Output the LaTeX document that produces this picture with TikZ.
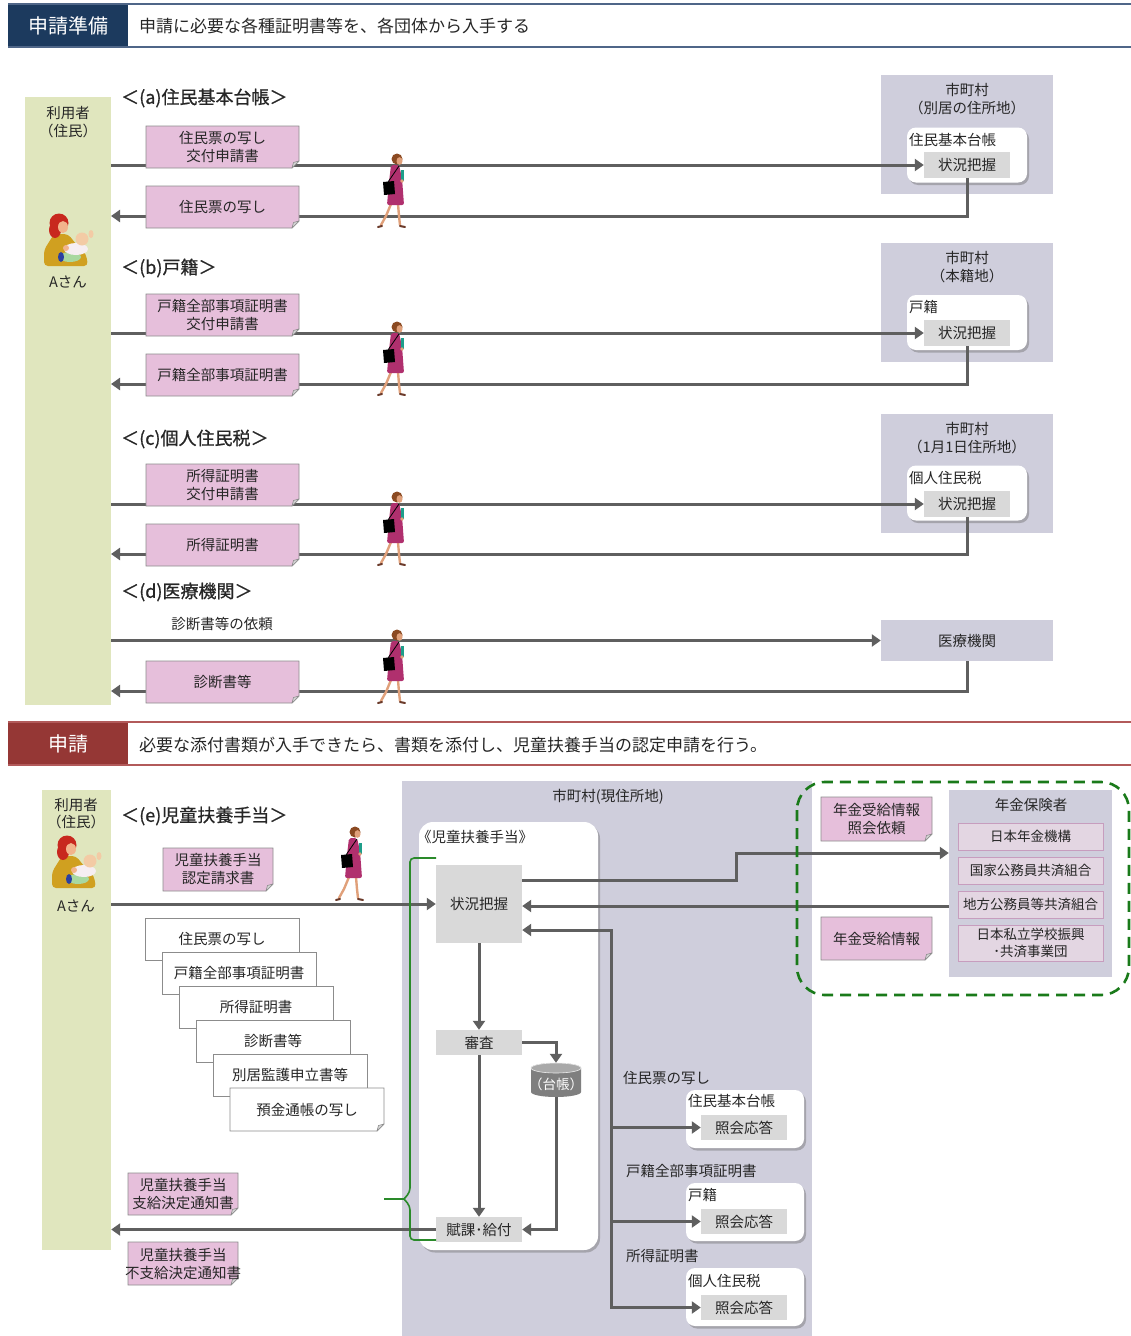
\documentclass[tikz,border=0pt]{standalone}
\usepackage{fontspec}
\setmainfont{Noto Sans CJK JP}
\newfontfamily\ttlfont[FakeBold=0.8]{Noto Sans CJK JP}
\usetikzlibrary{arrows.meta,calc,shadows}

\definecolor{hdrnavy}{HTML}{1C3A5E}
\definecolor{hdrnavyline}{HTML}{4F6688}
\definecolor{hdrwine}{HTML}{953735}
\definecolor{hdrwineline}{HTML}{B25A5A}
\definecolor{usergreen}{HTML}{E0E6BE}
\definecolor{munigray}{HTML}{CFCEDC}
\definecolor{notepink}{HTML}{E6BFDB}
\definecolor{noteedge}{HTML}{8C8C8C}
\definecolor{foldgray}{HTML}{D6D6D6}
\definecolor{conngray}{HTML}{5F5F5F}
\definecolor{taskgray}{HTML}{D9D9D9}
\definecolor{dashgreen}{HTML}{1A7A1A}
\definecolor{bracegreen}{HTML}{2A8A2A}
\definecolor{insfill}{HTML}{E3D6E2}
\definecolor{insedge}{HTML}{C79DBE}
\definecolor{dbgray}{HTML}{7F7F7F}
\definecolor{dbtop}{HTML}{A9A9A9}
\definecolor{inkgray}{HTML}{262626}
% clip-art colours
\definecolor{coat}{HTML}{B0306E}
\definecolor{skin}{HTML}{E0A07A}
\definecolor{hairbrown}{HTML}{8B4A22}
\definecolor{shoe}{HTML}{6B3A2A}
\definecolor{book}{HTML}{1E9E8A}
\definecolor{mustard}{HTML}{D0A020}
\definecolor{redhair}{HTML}{C8281E}
\definecolor{skinm}{HTML}{F2B48C}
\definecolor{skinb}{HTML}{F3CBA5}
\definecolor{babywhite}{HTML}{F6EEF2}
\definecolor{babyleg}{HTML}{A8D8A0}
\definecolor{babyfoot}{HTML}{2A40A0}

% pink (or white) document note with a folded lower-right corner
% #1 fill, #2 name, #3 centre, #4 width, #5 height, #6 text
\newcommand\docnote[6][notepink]{%
  \begin{scope}[shift={(#3)}]
    \filldraw[fill=#1, draw=noteedge, line width=0.8pt]
      ({-#4/2},{-#5/2}) -- ({#4/2},{-#5/2}) -- ({#4/2},{#5/2-7}) --
      ({#4/2-7},{#5/2}) -- ({-#4/2},{#5/2}) -- cycle;
    \filldraw[fill=foldgray, draw=noteedge, line width=0.6pt, line join=round]
      ({#4/2},{#5/2-7}) -- ({#4/2-7},{#5/2}) -- ({#4/2-5.5},{#5/2-5.5}) -- cycle;
  \end{scope}
  \node[notetxt] (#2) at (#3) {#6};
}

\tikzset{
  walker/.pic={
    \draw[skin, line width=2.4pt, line cap=round] (13,52) -- (8,64) -- (3,73);
    \draw[skin, line width=2.4pt, line cap=round] (20,52) -- (21,64) -- (22,73);
    \draw[shoe, line width=2pt, line cap=round] (0,75) -- (4,74);
    \draw[shoe, line width=2pt, line cap=round] (22,74) -- (27,75);
    \fill[coat, rounded corners=2pt] (13,13) -- (21,13) -- (24,26) -- (26,53) -- (9,53) -- (11,30) -- cycle;
    \draw[black, line width=0.8pt] (21,14) -- (10,30);
    \fill[black] (5,30) -- (16,29) -- (17,42) -- (6,43) -- cycle;
    \fill[book] (23,18) rectangle (26,29);
    \fill[skin] (24,29) circle (1.8pt);
    \fill[hairbrown] (19,7) circle (5.5pt);
    \fill[skin] (21.5,9) ellipse (3pt and 3.8pt);
  },
  mother/.pic={
    \fill[mustard, rounded corners=4pt] (-14,-6) -- (0,-6) -- (8,4) -- (18,14) -- (20,26) -- (-24,26) -- (-24,10) -- cycle;
    \fill[redhair] (-9,-17) circle (9.5pt);
    \fill[redhair] (-13,-10) ellipse (6pt and 8pt);
    \fill[skinm] (-5,-13) ellipse (5pt and 6pt);
    \fill[babyleg] (2,17) ellipse (11pt and 5pt);
    \fill[babyfoot] (-7,17) ellipse (3pt and 5pt);
    \fill[babywhite] (8,9) ellipse (12pt and 6pt);
    \fill[skinb] (14,-1) circle (6.5pt);
    \fill[skinb] (23,-6) ellipse (2.5pt and 4pt);
    \fill[skinm] (-2,8) circle (3pt);
  }
}

\begin{document}
\begin{tikzpicture}[x=1pt,y=-1pt,
  txt/.style={inner sep=0pt, font=\fontsize{14.5}{18}\selectfont, text=inkgray, align=center},
  ttl/.style={inner sep=0pt, anchor=west, font=\ttlfont\fontsize{18}{21}\selectfont, text=inkgray},
  hdr/.style={inner sep=0pt, font=\fontsize{20}{24}\selectfont, text=white},
  hdrtxt/.style={inner sep=0pt, anchor=west, font=\fontsize{17}{20}\selectfont, text=inkgray},
  notetxt/.style={txt},
  userbox/.style={fill=usergreen, inner sep=0pt},
  munibox/.style={fill=munigray, inner sep=0pt},
  wbox/.style={fill=white, rounded corners=9pt, inner sep=0pt,
    drop shadow={shadow xshift=2pt, shadow yshift=-2.5pt, fill=black!60, opacity=0.4}},
  task/.style={fill=taskgray, inner sep=0pt, minimum width=86pt, font=\fontsize{14.5}{18}\selectfont, text=inkgray},
  insbox/.style={fill=insfill, draw=insedge, line width=1pt, minimum width=145pt, inner sep=0pt,
    align=center, font=\fontsize{13.5}{17}\selectfont, text=inkgray},
  stackdoc/.style={fill=white, draw=noteedge, line width=0.8pt, minimum width=154pt, minimum height=42pt,
    inner sep=0pt, font=\fontsize{14.5}{18}\selectfont, text=inkgray},
  conn/.style={draw=conngray, line width=3pt},
  arr/.style={conn, -{Triangle[length=9pt,width=12pt]}},
]
\useasboundingbox (0,0) rectangle (1131,1336);

% ---------------- header bands ----------------
\fill[hdrnavy] (8,4) rectangle (128,47);
\draw[hdrnavyline, line width=1.2pt] (8,4) -- (1131,4) (8,47) -- (1131,47);
\node[hdr] (h1) at (68,26) {申請準備};
\node[hdrtxt] (h1t) at (139,26) {申請に必要な各種証明書等を、各団体から入手する};

\fill[hdrwine] (8,722) rectangle (128,765);
\draw[hdrwineline, line width=1.2pt] (8,722) -- (1131,722) (8,765) -- (1131,765);
\node[hdr] (h2) at (68,744) {申請};
\node[hdrtxt] (h2t) at (139,745) {必要な添付書類が入手できたら、書類を添付し、児童扶養手当の認定申請を行う。};

% ---------------- upper part: obtaining the certificates ----------------
\node[userbox, minimum width=86pt, minimum height=608pt] (u1) at (68,401) {};
\node[txt] (u1a) at (68,113) {利用者};
\node[txt] (u1b) at (68,131) {（住民）};
\pic at (68,240) {mother};
\node[txt] (u1c) at (68,282) {Aさん};

\node[ttl] (ta) at (121,98) {＜(a)住民基本台帳＞};
\node[ttl] (tb) at (121,268) {＜(b)戸籍＞};
\node[ttl] (tc) at (121,439) {＜(c)個人住民税＞};
\node[ttl] (td) at (121,592) {＜(d)医療機関＞};

% municipal offices
\node[munibox, minimum width=172pt, minimum height=119pt] (ma) at (967,134.5) {};
\node[txt] (ma1) at (967,90) {市町村};
\node[txt] (ma2) at (967,108) {（別居の住所地）};
\node[wbox, minimum width=120pt, minimum height=55pt] (wa) at (967,155) {};
\node[txt, anchor=west] (wal) at (909,140) {住民基本台帳};
\node[task, minimum height=26pt] (sa) at (967,165) {状況把握};

\node[munibox, minimum width=172pt, minimum height=119pt] (mb) at (967,302.5) {};
\node[txt] (mb1) at (967,258) {市町村};
\node[txt] (mb2) at (967,276) {（本籍地）};
\node[wbox, minimum width=120pt, minimum height=55pt] (wb) at (967,322.5) {};
\node[txt, anchor=west] (wbl) at (909,307) {戸籍};
\node[task, minimum height=26pt] (sb) at (967,333) {状況把握};

\node[munibox, minimum width=172pt, minimum height=119pt] (mc) at (967,473.5) {};
\node[txt] (mc1) at (967,429) {市町村};
\node[txt] (mc2) at (967,447) {（1月1日住所地）};
\node[wbox, minimum width=120pt, minimum height=55pt] (wc) at (967,493) {};
\node[txt, anchor=west] (wcl) at (909,478) {個人住民税};
\node[task, minimum height=26pt] (sc) at (967,504) {状況把握};

\node[munibox, minimum width=172pt, minimum height=41pt, font=\fontsize{14.5}{18}\selectfont, text=inkgray] (md) at (967,640.5) {医療機関};

% request and return flows
\coordinate (ra) at (111,216);
\coordinate (rb) at (111,384);
\coordinate (rc) at (111,554);
\coordinate (rd) at (111,691);
\draw[arr] (u1.east |- sa.west) -- (sa.west);
\draw[arr] (sa.south) |- (ra);
\draw[arr] (u1.east |- sb.west) -- (sb.west);
\draw[arr] (sb.south) |- (rb);
\draw[arr] (u1.east |- sc.west) -- (sc.west);
\draw[arr] (sc.south) |- (rc);
\draw[arr] (u1.east |- md.west) -- (md.west);
\draw[arr] (md.south) |- (rd);

\docnote{na1}{222.5,147}{153}{42}{住民票の写し\\交付申請書}
\docnote{na2}{222.5,207}{153}{42}{住民票の写し}
\docnote{nb1}{222.5,315}{153}{42}{戸籍全部事項証明書\\交付申請書}
\docnote{nb2}{222.5,375}{153}{42}{戸籍全部事項証明書}
\docnote{nc1}{222.5,485}{153}{42}{所得証明書\\交付申請書}
\docnote{nc2}{222.5,545}{153}{42}{所得証明書}
\docnote{nd2}{222.5,682}{153}{42}{診断書等}
\node[txt] (ndl) at (222,624) {診断書等の依頼};

\pic at (378,152) {walker};
\pic at (378,320) {walker};
\pic at (378,490) {walker};
\pic at (378,628) {walker};

% ---------------- lower part: the application ----------------
\node[userbox, minimum width=69pt, minimum height=460pt] (u2) at (76.5,1020) {};
\node[txt] (u2a) at (76,805) {利用者};
\node[txt] (u2b) at (76,822) {（住民）};
\pic at (76,862) {mother};
\node[txt] (u2c) at (76,906) {Aさん};

\node[ttl] (te) at (121,816) {＜(e)児童扶養手当＞};

% current municipality
\node[munibox, minimum width=410pt, minimum height=555pt] (mm) at (607,1058.5) {};
\node[txt] (mml) at (608,797) {市町村(現住所地)};
\node[wbox, rounded corners=14pt, minimum width=179pt, minimum height=428pt] (wm) at (508.5,1036) {};
\node[txt, anchor=west] (wml) at (417,837) {《児童扶養手当》};
\node[task, minimum height=78pt] (sk) at (479,904) {状況把握};
\node[task, minimum height=25pt] (shinsa) at (479,1042.5) {審査};
\node[task, minimum height=25pt] (fuka) at (479,1229.5) {賦課･給付};

% ledger cylinder
\node[inner sep=0pt, minimum width=50pt, minimum height=34pt] (daicho) at (556,1080) {};
\fill[dbgray] (531,1068) -- (531,1092) arc[start angle=180, end angle=360, x radius=25pt, y radius=5pt]
  -- (581,1068) arc[start angle=0, end angle=180, x radius=25pt, y radius=5pt] -- cycle;
\filldraw[fill=dbtop, draw=white!85!gray, line width=0.6pt] (556,1068) ellipse (25pt and 5pt);
\node[inner sep=0pt, text=white, font=\fontsize{13.5}{16}\selectfont] (daichol) at (556,1084) {（台帳）};

% inquiry boxes of other registers
\node[txt, anchor=west] (q1l) at (623,1078) {住民票の写し};
\node[wbox, minimum width=118pt, minimum height=58pt] (w1) at (745,1119) {};
\node[txt, anchor=west] (w1l) at (688,1101) {住民基本台帳};
\node[task, minimum height=25pt] (s1) at (744,1127.5) {照会応答};

\node[txt, anchor=west] (q2l) at (626,1171) {戸籍全部事項証明書};
\node[wbox, minimum width=118pt, minimum height=58pt] (w2) at (745,1212) {};
\node[txt, anchor=west] (w2l) at (688,1195) {戸籍};
\node[task, minimum height=25pt] (s2) at (744,1221.5) {照会応答};

\node[txt, anchor=west] (q3l) at (626,1256) {所得証明書};
\node[wbox, minimum width=118pt, minimum height=58pt] (w3) at (745,1297) {};
\node[txt, anchor=west] (w3l) at (688,1281) {個人住民税};
\node[task, minimum height=25pt] (s3) at (744,1307.5) {照会応答};

% pension insurers
\node[munibox, minimum width=163pt, minimum height=187pt] (ins) at (1030.5,883.5) {};
\node[txt] (insl) at (1031,805) {年金保険者};
\node[insbox, minimum height=27pt] (i1) at (1030.5,836.5) {日本年金機構};
\node[insbox, minimum height=27pt] (i2) at (1030.5,870.5) {国家公務員共済組合};
\node[insbox, minimum height=27pt] (i3) at (1030.5,904.5) {地方公務員等共済組合};
\node[insbox, minimum height=36pt] (i4) at (1030.5,943) {日本私立学校振興\\･共済事業団};

% flows of the application
\coordinate (j1) at (736,880);
\coordinate (j2) at (736,853);
\coordinate (j3) at (736,906);
\coordinate (bus) at (611,930);
\draw[arr] (u2.east |- sk.west) -- (sk.west);
\draw[arr] (sk.south) -- (shinsa.north);
\draw[arr] (shinsa.east) -| (daicho.north);
\draw[arr] (daicho.south) |- (fuka.east);
\draw[arr] (shinsa.south) -- (fuka.north);
\draw[arr] (fuka.west) -- (u2.east |- fuka.west);
\draw[arr] (sk.east |- j1) -- (j1) -- (j2) -- (ins.west |- j2);
\draw[arr] (ins.west |- j3) -- (sk.east |- j3);
\draw[arr] (bus |- s3.west) -- (bus) -- (sk.east |- bus);
\draw[arr] (bus) |- (s1.west);
\draw[arr] (bus) |- (s2.west);
\draw[arr] (bus) |- (s3.west);

% brace round the child-allowance work
\draw[bracegreen, line width=1.6pt, rounded corners=4pt] (436,858) -- (410,858) -- (410,1192) -- (404,1199);
\draw[bracegreen, line width=1.6pt] (404,1199) -- (384,1199);
\draw[bracegreen, line width=1.6pt, rounded corners=4pt] (404,1199) -- (410,1206) -- (410,1240) -- (436,1240);

% pension information exchange
\draw[dashgreen, line width=2.6pt, dash pattern=on 11pt off 7pt, rounded corners=28pt] (797,782) rectangle (1129,995);
\docnote{g1}{876.5,819}{111}{44}{年金受給情報\\照会依頼}
\docnote{g2}{876.5,938.5}{111}{43}{年金受給情報}

% documents submitted
\docnote{e1}{218,869.5}{110}{43}{児童扶養手当\\認定請求書}
\pic at (336,825) {walker};
\node[stackdoc] (k0) at (222,939) {住民票の写し};
\node[stackdoc] (k1) at (239,973) {戸籍全部事項証明書};
\node[stackdoc] (k2) at (256,1007) {所得証明書};
\node[stackdoc] (k3) at (273,1041) {診断書等};
\node[stackdoc] (k4) at (290,1075) {別居監護申立書等};
\docnote[white]{k5}{307,1109.5}{154}{43}{預金通帳の写し}

% notices returned
\docnote{f1}{183,1194}{110}{42}{児童扶養手当\\支給決定通知書}
\docnote{f2}{183,1263.5}{110}{43}{児童扶養手当\\不支給決定通知書}

\end{tikzpicture}
\end{document}
